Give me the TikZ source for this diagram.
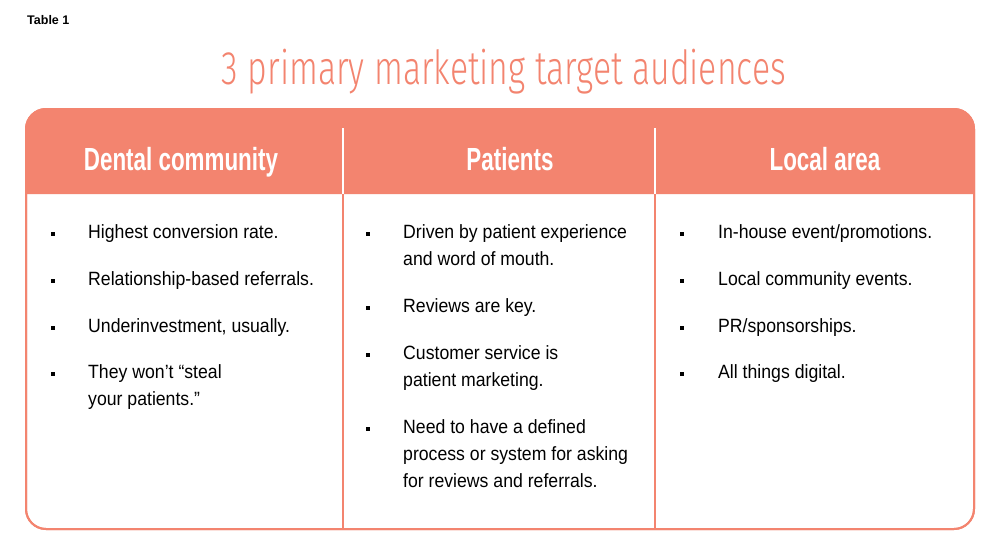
\documentclass[tikz,border=0pt]{standalone}
\usepackage{fontspec}
\setmainfont{Liberation Sans}
\newfontfamily\bodyfont[FakeStretch=0.92]{Liberation Sans}
\newfontfamily\headfont[FakeStretch=0.70]{Liberation Sans}
\newfontfamily\titlefont[FakeStretch=0.72]{Fira Sans Light}
\definecolor{salmon}{RGB}{243,132,111}
\newcommand\twoline[2]{\parbox[t]{280pt}{#1\\#2}}
\newcommand\threeline[3]{\parbox[t]{280pt}{#1\\#2\\#3}}
\begin{document}
\begin{tikzpicture}[x=1pt,y=-1pt,
  itm/.style={anchor=base west,inner sep=0pt,font=\bodyfont\fontsize{19.2}{27}\selectfont,text=black},
  bul/.style={rectangle,fill=black,minimum size=3.4pt,inner sep=0pt},
  hdr/.style={anchor=base,inner sep=0pt,text=white,font=\headfont\bfseries\fontsize{32}{36}\selectfont}]
\useasboundingbox (0,0) rectangle (1000,554);
\fill[white] (0,0) rectangle (1000,554);
% title
\node[anchor=base west,inner sep=0pt,font=\bfseries\fontsize{12.5}{14}\selectfont] (tab) at (27,24) {Table 1};
\node[anchor=base,inner sep=0pt,text=salmon,font=\titlefont\fontsize{47}{52}\selectfont] (title) at (504,84) {3 primary marketing target audiences};
% frame
\draw[salmon,line width=2pt,fill=white,rounded corners=20pt] (26,109) rectangle (974,529);
\fill[salmon] (26,194) [rounded corners=20pt] -- (26,109) -- (974,109) [sharp corners] -- (974,194) -- cycle;
\draw[salmon,line width=2pt,rounded corners=20pt] (26,109) rectangle (974,529);
\coordinate (d1t) at (343,128); \coordinate (d1m) at (343,194); \coordinate (d1b) at (343,529);
\coordinate (d2t) at (655,128); \coordinate (d2m) at (655,194); \coordinate (d2b) at (655,529);
\draw[white,line width=2pt] (d1t) -- (d1m);
\draw[white,line width=2pt] (d2t) -- (d2m);
\draw[salmon,line width=2pt] (d1m) -- (d1b);
\draw[salmon,line width=2pt] (d2m) -- (d2b);
% headers
\node[hdr] (h1) at (181,170) {Dental community};
\node[hdr] (h2) at (510,170) {Patients};
\node[hdr] (h3) at (825,170) {Local area};
% column 1
\node[bul] (b11) at (53,234) {}; \node[itm] (t11) at (88,238) {Highest conversion rate.};
\node[bul] (b12) at (53,281) {}; \node[itm] (t12) at (88,285) {Relationship-based referrals.};
\node[bul] (b13) at (53,328) {}; \node[itm] (t13) at (88,332) {Underinvestment, usually.};
\node[bul] (b14) at (53,374) {}; \node[itm] (t14) at (88,378) {\twoline{They won’t “steal}{your patients.”}};
% column 2
\node[bul] (b21) at (368,234) {}; \node[itm] (t21) at (403,238) {\twoline{Driven by patient experience}{and word of mouth.}};
\node[bul] (b22) at (368,308) {}; \node[itm] (t22) at (403,312) {Reviews are key.};
\node[bul] (b23) at (368,355) {}; \node[itm] (t23) at (403,359) {\twoline{Customer service is}{patient marketing.}};
\node[bul] (b24) at (368,429) {}; \node[itm] (t24) at (403,433) {\threeline{Need to have a defined}{process or system for asking}{for reviews and referrals.}};
% column 3
\node[bul] (b31) at (682,234) {}; \node[itm] (t31) at (718,238) {In-house event/promotions.};
\node[bul] (b32) at (682,281) {}; \node[itm] (t32) at (718,285) {Local community events.};
\node[bul] (b33) at (682,328) {}; \node[itm] (t33) at (718,332) {PR/sponsorships.};
\node[bul] (b34) at (682,374) {}; \node[itm] (t34) at (718,378) {All things digital.};
\end{tikzpicture}
\end{document}
